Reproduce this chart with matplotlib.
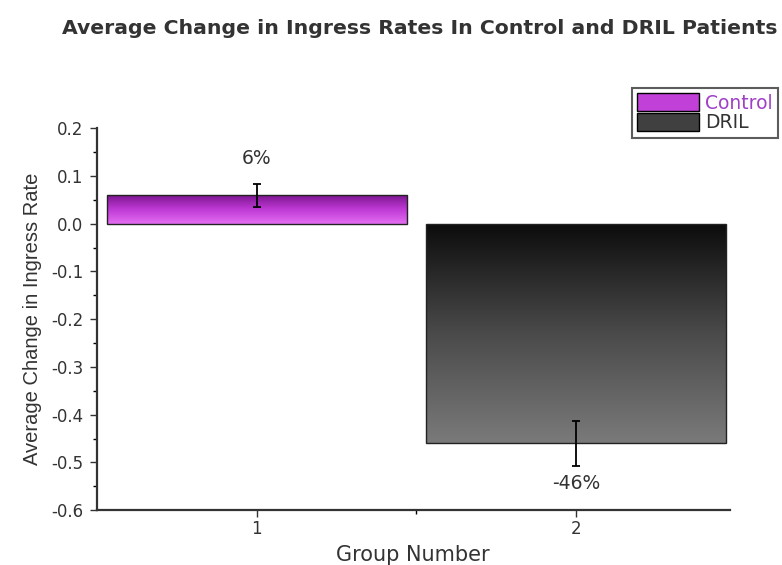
import numpy as np
import matplotlib
matplotlib.use("Agg")
import matplotlib.pyplot as plt
from matplotlib.patches import Patch
from matplotlib.colors import LinearSegmentedColormap

groups = [1, 2]
names = ["Control", "DRIL"]
values = [0.06, -0.46]
errors = [0.024, 0.047]
labels = ["6%", "-46%"]

plt.rcParams["font.family"] = ["DejaVu Sans"]

fig = plt.figure(figsize=(7.82, 5.65), dpi=100)
ax = fig.add_axes([0.124, 0.097, 0.809, 0.676])

# gradients: dark at top, lighter at bottom
cmaps = [
    LinearSegmentedColormap.from_list("ctl", ["#e36ef2", "#c03ad6", "#7d1590"]),
    LinearSegmentedColormap.from_list("dril", ["#7a7a7a", "#4a4a4a", "#0c0c0c"]),
]
bars = ax.bar(groups, values, width=0.94, color="none", edgecolor="#222222",
              linewidth=1.0, zorder=3)
grad = np.linspace(0, 1, 256).reshape(-1, 1)
for b, cm in zip(bars, cmaps):
    x0, y0 = b.get_x(), b.get_y()
    w, h = b.get_width(), b.get_height()
    ylo, yhi = min(y0, y0 + h), max(y0, y0 + h)
    im = ax.imshow(grad, cmap=cm, aspect="auto", origin="lower",
                   extent=[x0, x0 + w, ylo, yhi], zorder=2)
    im.set_clip_path(b)

ax.errorbar(groups, values, yerr=errors, fmt="none", ecolor="black",
            elinewidth=1.3, capsize=3, capthick=1.3, zorder=4)

ax.text(groups[0], values[0] + errors[0] + 0.032, labels[0], ha="center",
        va="bottom", fontsize=13.5, color="#333333")
ax.text(groups[1], values[1] - errors[1] - 0.017, labels[1], ha="center",
        va="top", fontsize=13.5, color="#333333")

ax.set_xlim(0.5, 2.48)
ax.set_ylim(-0.6, 0.2)
ax.set_xticks(groups)
ax.set_xticks([1.5], minor=True)
ax.set_yticks(np.arange(-0.6, 0.21, 0.1))
ax.set_yticks(np.arange(-0.55, 0.2, 0.1), minor=True)
ax.yaxis.set_major_formatter(
    plt.FuncFormatter(lambda v, p: f"{0.0 if abs(v) < 1e-9 else v:.1f}"))
ax.tick_params(axis="both", which="major", direction="out", length=5,
               width=1, labelsize=12, colors="#333333")
ax.tick_params(axis="x", which="major", pad=2)
ax.tick_params(axis="y", which="major", pad=5)
ax.tick_params(axis="both", which="minor", direction="out", length=3, width=1)
ax.spines["top"].set_visible(False)
ax.spines["right"].set_visible(False)
for s in ("left", "bottom"):
    ax.spines[s].set_linewidth(1.6)
    ax.spines[s].set_color("#333333")

ax.set_xlabel("Group Number", fontsize=15, color="#333333", labelpad=5)
ax.set_ylabel("Average Change in Ingress Rate", fontsize=14.5, color="#333333",
              labelpad=6, family=["Liberation Sans Narrow", "Liberation Sans"])
fig.text(0.537, 0.95, "Average Change in Ingress Rates In Control and DRIL Patients",
         ha="center", va="center", fontsize=14.7, fontweight="bold",
         color="#333333")

handles = [Patch(facecolor="#c040d8", edgecolor="black"),
           Patch(facecolor="#404040", edgecolor="black")]
leg = fig.legend(handles, names, loc="upper right",
                 bbox_to_anchor=(0.995, 0.845),
                 fontsize=13.5, frameon=True, fancybox=False, edgecolor="#333333",
                 handlelength=3.3, handleheight=1.1, handletextpad=0.3,
                 borderpad=0.3, labelspacing=0.0, borderaxespad=0)
leg.get_frame().set_linewidth(1.5)
leg.get_texts()[0].set_color("#a040c8")
leg.get_texts()[1].set_color("#333333")

fig.savefig("out.png", dpi=100)
plt.close(fig)
